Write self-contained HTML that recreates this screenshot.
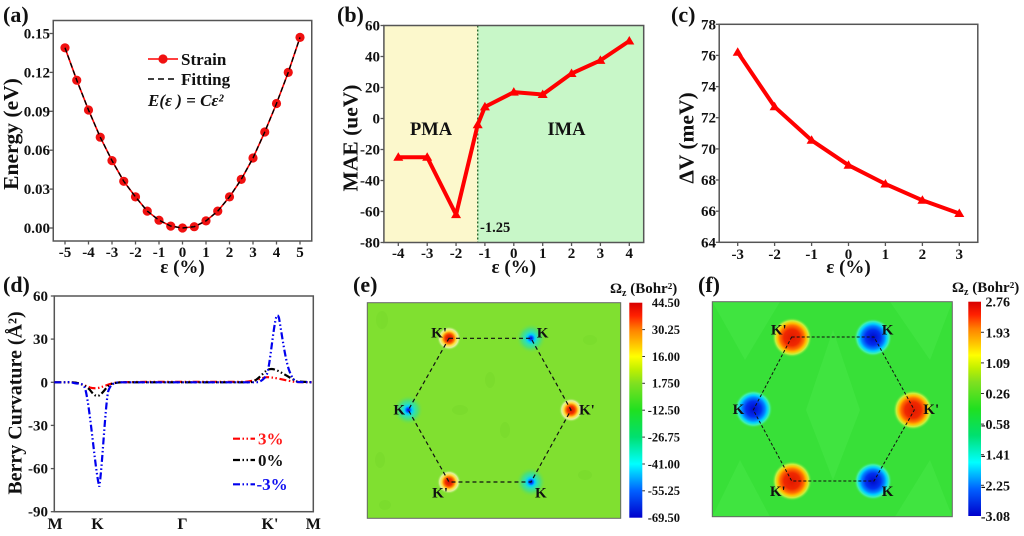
<!DOCTYPE html>
<html><head><meta charset="utf-8">
<style>
html,body{margin:0;padding:0;background:#fff;}
svg{display:block;}
text{font-family:"Liberation Serif","DejaVu Serif",serif;font-weight:bold;fill:#111;}
</style></head><body>
<svg width="1024" height="536" viewBox="0 0 1024 536" xmlns="http://www.w3.org/2000/svg">
<defs>
 <linearGradient id="cb" x1="0" y1="0" x2="0" y2="1">
  <stop offset="0" stop-color="#d80000"/>
  <stop offset="0.06" stop-color="#ff2000"/>
  <stop offset="0.125" stop-color="#ff8000"/>
  <stop offset="0.19" stop-color="#ffc000"/>
  <stop offset="0.25" stop-color="#ffff00"/>
  <stop offset="0.31" stop-color="#c0f000"/>
  <stop offset="0.375" stop-color="#80e020"/>
  <stop offset="0.5" stop-color="#20e020"/>
  <stop offset="0.625" stop-color="#00e070"/>
  <stop offset="0.75" stop-color="#00ffff"/>
  <stop offset="0.875" stop-color="#0060ff"/>
  <stop offset="1" stop-color="#0000cc"/>
 </linearGradient>
 <radialGradient id="eKp" cx="0.5" cy="0.5" r="0.5">
  <stop offset="0" stop-color="#d01000"/>
  <stop offset="0.3" stop-color="#f03000"/>
  <stop offset="0.45" stop-color="#ff8000"/>
  <stop offset="0.6" stop-color="#ffe040"/>
  <stop offset="0.78" stop-color="#e0f0a0"/>
  <stop offset="1" stop-color="#80e030" stop-opacity="0"/>
 </radialGradient>
 <radialGradient id="eK" cx="0.5" cy="0.5" r="0.5">
  <stop offset="0" stop-color="#0000c0"/>
  <stop offset="0.12" stop-color="#0050ff"/>
  <stop offset="0.25" stop-color="#00d0ff"/>
  <stop offset="0.42" stop-color="#30e0b0"/>
  <stop offset="0.65" stop-color="#50e070"/>
  <stop offset="1" stop-color="#80e030" stop-opacity="0"/>
 </radialGradient>
 <radialGradient id="fKp" cx="0.5" cy="0.5" r="0.5">
  <stop offset="0" stop-color="#e01800"/>
  <stop offset="0.4" stop-color="#f02800"/>
  <stop offset="0.6" stop-color="#ff7000"/>
  <stop offset="0.72" stop-color="#ffc000"/>
  <stop offset="0.84" stop-color="#c8f040"/>
  <stop offset="1" stop-color="#38e038" stop-opacity="0"/>
 </radialGradient>
 <radialGradient id="fK" cx="0.5" cy="0.5" r="0.5">
  <stop offset="0" stop-color="#0008c8"/>
  <stop offset="0.4" stop-color="#0030f0"/>
  <stop offset="0.6" stop-color="#0080ff"/>
  <stop offset="0.72" stop-color="#00d0ff"/>
  <stop offset="0.85" stop-color="#40f0b0"/>
  <stop offset="1" stop-color="#38e038" stop-opacity="0"/>
 </radialGradient>
</defs>
<rect width="1024" height="536" fill="#fff"/>

<!-- ================= (a) ================= -->
<text x="3" y="22" font-size="22">(a)</text>
<rect x="53.25" y="20.5" width="258.5" height="220.5" fill="none" stroke="#555" stroke-width="1.5"/>
<g stroke="#555" stroke-width="1.3">
 <line x1="49.5" y1="228" x2="53.25" y2="228"/>
 <line x1="49.5" y1="189.1" x2="53.25" y2="189.1"/>
 <line x1="49.5" y1="150.2" x2="53.25" y2="150.2"/>
 <line x1="49.5" y1="111.3" x2="53.25" y2="111.3"/>
 <line x1="49.5" y1="72.4" x2="53.25" y2="72.4"/>
 <line x1="49.5" y1="33.5" x2="53.25" y2="33.5"/>
 <line x1="65" y1="241" x2="65" y2="244.5"/>
 <line x1="88.5" y1="241" x2="88.5" y2="244.5"/>
 <line x1="112" y1="241" x2="112" y2="244.5"/>
 <line x1="135.5" y1="241" x2="135.5" y2="244.5"/>
 <line x1="159" y1="241" x2="159" y2="244.5"/>
 <line x1="182.5" y1="241" x2="182.5" y2="244.5"/>
 <line x1="206" y1="241" x2="206" y2="244.5"/>
 <line x1="229.5" y1="241" x2="229.5" y2="244.5"/>
 <line x1="253" y1="241" x2="253" y2="244.5"/>
 <line x1="276.5" y1="241" x2="276.5" y2="244.5"/>
 <line x1="300" y1="241" x2="300" y2="244.5"/>
</g>
<g font-size="15" text-anchor="end">
 <text x="50" y="233">0.00</text>
 <text x="50" y="194.1">0.03</text>
 <text x="50" y="155.2">0.06</text>
 <text x="50" y="116.3">0.09</text>
 <text x="50" y="77.4">0.12</text>
 <text x="50" y="38.5">0.15</text>
</g>
<g font-size="15" text-anchor="middle">
 <text x="65" y="257">-5</text>
 <text x="88.5" y="257">-4</text>
 <text x="112" y="257">-3</text>
 <text x="135.5" y="257">-2</text>
 <text x="159" y="257">-1</text>
 <text x="182.5" y="257">0</text>
 <text x="206" y="257">1</text>
 <text x="229.5" y="257">2</text>
 <text x="253" y="257">3</text>
 <text x="276.5" y="257">4</text>
 <text x="300" y="257">5</text>
</g>
<text x="182.5" y="273" font-size="19" text-anchor="middle">ε (%)</text>
<text transform="translate(18,134) rotate(-90)" font-size="21.5" text-anchor="middle">Energy (eV)</text>
<polyline fill="none" stroke="#ff0000" stroke-width="1.6" points="65,47.8 76.75,80.2 88.5,110 100.25,137.2 112,160.6 123.75,181.3 135.5,196.9 147.25,211.1 159,220.2 170.75,226.1 182.5,228 194.25,226.7 206,220.9 217.75,211.1 229.5,196.9 241.25,179.4 253,158 264.75,132 276.5,103.5 288.25,72.4 300,37.4"/>
<g fill="#f01010">
 <circle cx="65" cy="47.8" r="4.6"/><circle cx="76.75" cy="80.2" r="4.6"/><circle cx="88.5" cy="110" r="4.6"/>
 <circle cx="100.25" cy="137.2" r="4.6"/><circle cx="112" cy="160.6" r="4.6"/><circle cx="123.75" cy="181.3" r="4.6"/>
 <circle cx="135.5" cy="196.9" r="4.6"/><circle cx="147.25" cy="211.1" r="4.6"/><circle cx="159" cy="220.2" r="4.6"/>
 <circle cx="170.75" cy="226.1" r="4.6"/><circle cx="182.5" cy="228" r="4.6"/><circle cx="194.25" cy="226.7" r="4.6"/>
 <circle cx="206" cy="220.9" r="4.6"/><circle cx="217.75" cy="211.1" r="4.6"/><circle cx="229.5" cy="196.9" r="4.6"/>
 <circle cx="241.25" cy="179.4" r="4.6"/><circle cx="253" cy="158" r="4.6"/><circle cx="264.75" cy="132" r="4.6"/>
 <circle cx="276.5" cy="103.5" r="4.6"/><circle cx="288.25" cy="72.4" r="4.6"/><circle cx="300" cy="37.4" r="4.6"/>
</g>
<polyline fill="none" stroke="#000" stroke-width="1.4" stroke-dasharray="5 3" points="65,47.8 76.75,80.2 88.5,110 100.25,137.2 112,160.6 123.75,181.3 135.5,196.9 147.25,211.1 159,220.2 170.75,226.1 182.5,228 194.25,226.7 206,220.9 217.75,211.1 229.5,196.9 241.25,179.4 253,158 264.75,132 276.5,103.5 288.25,72.4 300,37.4"/>
<line x1="148" y1="59" x2="178" y2="59" stroke="#ff0000" stroke-width="1.6"/>
<circle cx="163" cy="59" r="4.6" fill="#f01010"/>
<text x="181" y="65" font-size="17">Strain</text>
<line x1="148" y1="79" x2="178" y2="79" stroke="#000" stroke-width="1.5" stroke-dasharray="6 4"/>
<text x="181" y="85" font-size="17">Fitting</text>
<text x="148" y="106" font-size="17" font-style="italic">E(ε ) = Cε²</text>

<!-- ================= (b) ================= -->
<text x="337" y="22" font-size="22">(b)</text>
<rect x="383.9" y="25.5" width="93.8" height="217" fill="#fcf8cc"/>
<rect x="477.7" y="25.5" width="166" height="217" fill="#c8f7c8"/>
<line x1="477.7" y1="25.5" x2="477.7" y2="242.5" stroke="#2d6a2d" stroke-width="1.4" stroke-dasharray="2 2"/>
<rect x="383.9" y="25.5" width="259.8" height="217" fill="none" stroke="#555" stroke-width="1.5"/>
<g stroke="#555" stroke-width="1.3">
 <line x1="380.5" y1="25.5" x2="383.9" y2="25.5"/>
 <line x1="380.5" y1="56.5" x2="383.9" y2="56.5"/>
 <line x1="380.5" y1="87.5" x2="383.9" y2="87.5"/>
 <line x1="380.5" y1="118.5" x2="383.9" y2="118.5"/>
 <line x1="380.5" y1="149.5" x2="383.9" y2="149.5"/>
 <line x1="380.5" y1="180.5" x2="383.9" y2="180.5"/>
 <line x1="380.5" y1="211.5" x2="383.9" y2="211.5"/>
 <line x1="380.5" y1="242.5" x2="383.9" y2="242.5"/>
 <line x1="398.3" y1="242.5" x2="398.3" y2="246"/>
 <line x1="427.2" y1="242.5" x2="427.2" y2="246"/>
 <line x1="456.05" y1="242.5" x2="456.05" y2="246"/>
 <line x1="484.9" y1="242.5" x2="484.9" y2="246"/>
 <line x1="513.8" y1="242.5" x2="513.8" y2="246"/>
 <line x1="542.7" y1="242.5" x2="542.7" y2="246"/>
 <line x1="571.55" y1="242.5" x2="571.55" y2="246"/>
 <line x1="600.4" y1="242.5" x2="600.4" y2="246"/>
 <line x1="629.3" y1="242.5" x2="629.3" y2="246"/>
</g>
<g font-size="15" text-anchor="end">
 <text x="380" y="30.5">60</text>
 <text x="380" y="61.5">40</text>
 <text x="380" y="92.5">20</text>
 <text x="380" y="123.5">0</text>
 <text x="380" y="154.5">-20</text>
 <text x="380" y="185.5">-40</text>
 <text x="380" y="216.5">-60</text>
 <text x="380" y="247.5">-80</text>
</g>
<g font-size="15" text-anchor="middle">
 <text x="398.3" y="258">-4</text>
 <text x="427.2" y="258">-3</text>
 <text x="456.05" y="258">-2</text>
 <text x="484.9" y="258">-1</text>
 <text x="513.8" y="258">0</text>
 <text x="542.7" y="258">1</text>
 <text x="571.55" y="258">2</text>
 <text x="600.4" y="258">3</text>
 <text x="629.3" y="258">4</text>
</g>
<text x="513.8" y="273" font-size="19" text-anchor="middle">ε (%)</text>
<text transform="translate(357.5,138) rotate(-90)" font-size="21.5" text-anchor="middle">MAE (ueV)</text>
<text x="431" y="135" font-size="18.5" text-anchor="middle">PMA</text>
<text x="566.5" y="135" font-size="18.5" text-anchor="middle">IMA</text>
<text x="480" y="232" font-size="14.5">-1.25</text>
<polyline fill="none" stroke="#ff0000" stroke-width="4" stroke-linejoin="round" points="398.3,157.25 427.2,157.25 456.05,214.6 477.7,124.7 484.9,106.9 513.8,92.15 542.7,94.5 571.55,73.55 600.4,60.4 629.3,41"/>
<g fill="#ff0000">
 <polygon points="393.3,160.75 403.3,160.75 398.3,152.25"/>
 <polygon points="422.2,160.75 432.2,160.75 427.2,152.25"/>
 <polygon points="451.05,218.1 461.05,218.1 456.05,209.6"/>
 <polygon points="472.7,128.2 482.7,128.2 477.7,119.7"/>
 <polygon points="479.9,110.4 489.9,110.4 484.9,101.9"/>
 <polygon points="508.8,95.65 518.8,95.65 513.8,87.15"/>
 <polygon points="537.7,98 547.7,98 542.7,89.5"/>
 <polygon points="566.55,77.05 576.55,77.05 571.55,68.55"/>
 <polygon points="595.4,63.9 605.4,63.9 600.4,55.4"/>
 <polygon points="624.3,44.5 634.3,44.5 629.3,36"/>
</g>

<!-- ================= (c) ================= -->
<text x="671" y="22" font-size="22">(c)</text>
<rect x="719.2" y="24.3" width="258.6" height="218" fill="none" stroke="#555" stroke-width="1.5"/>
<g stroke="#555" stroke-width="1.3">
 <line x1="715.8" y1="242.3" x2="719.2" y2="242.3"/>
 <line x1="715.8" y1="211.2" x2="719.2" y2="211.2"/>
 <line x1="715.8" y1="180" x2="719.2" y2="180"/>
 <line x1="715.8" y1="148.9" x2="719.2" y2="148.9"/>
 <line x1="715.8" y1="117.7" x2="719.2" y2="117.7"/>
 <line x1="715.8" y1="86.6" x2="719.2" y2="86.6"/>
 <line x1="715.8" y1="55.4" x2="719.2" y2="55.4"/>
 <line x1="715.8" y1="24.3" x2="719.2" y2="24.3"/>
 <line x1="737.7" y1="242.3" x2="737.7" y2="246"/>
 <line x1="774.6" y1="242.3" x2="774.6" y2="246"/>
 <line x1="811.6" y1="242.3" x2="811.6" y2="246"/>
 <line x1="848.5" y1="242.3" x2="848.5" y2="246"/>
 <line x1="885.4" y1="242.3" x2="885.4" y2="246"/>
 <line x1="922.4" y1="242.3" x2="922.4" y2="246"/>
 <line x1="959.3" y1="242.3" x2="959.3" y2="246"/>
</g>
<g font-size="15" text-anchor="end">
 <text x="716" y="247.3">64</text>
 <text x="716" y="216.2">66</text>
 <text x="716" y="185">68</text>
 <text x="716" y="153.9">70</text>
 <text x="716" y="122.7">72</text>
 <text x="716" y="91.6">74</text>
 <text x="716" y="60.4">76</text>
 <text x="716" y="29.3">78</text>
</g>
<g font-size="15" text-anchor="middle">
 <text x="737.7" y="259">-3</text>
 <text x="774.6" y="259">-2</text>
 <text x="811.6" y="259">-1</text>
 <text x="848.5" y="259">0</text>
 <text x="885.4" y="259">1</text>
 <text x="922.4" y="259">2</text>
 <text x="959.3" y="259">3</text>
</g>
<text x="848.5" y="273" font-size="19" text-anchor="middle">ε (%)</text>
<text transform="translate(693.5,138) rotate(-90)" font-size="21.5" text-anchor="middle">ΔV (meV)</text>
<polyline fill="none" stroke="#ff0000" stroke-width="4" stroke-linejoin="round" points="737.7,52.3 774.6,106.8 811.6,140.3 848.5,165.2 885.4,184 922.4,200.3 959.3,213.5"/>
<g fill="#ff0000">
 <polygon points="732.7,55.8 742.7,55.8 737.7,47.3"/>
 <polygon points="769.6,110.3 779.6,110.3 774.6,101.8"/>
 <polygon points="806.6,143.8 816.6,143.8 811.6,135.3"/>
 <polygon points="843.5,168.7 853.5,168.7 848.5,160.2"/>
 <polygon points="880.4,187.5 890.4,187.5 885.4,179"/>
 <polygon points="917.4,203.8 927.4,203.8 922.4,195.3"/>
 <polygon points="954.3,217 964.3,217 959.3,208.5"/>
</g>

<!-- ================= (d) ================= -->
<text x="3" y="292" font-size="22">(d)</text>
<rect x="54.3" y="296" width="259" height="215.7" fill="none" stroke="#555" stroke-width="1.5"/>
<g stroke="#555" stroke-width="1.3">
 <line x1="50.8" y1="296" x2="54.3" y2="296"/>
 <line x1="50.8" y1="339.1" x2="54.3" y2="339.1"/>
 <line x1="50.8" y1="382.3" x2="54.3" y2="382.3"/>
 <line x1="50.8" y1="425.4" x2="54.3" y2="425.4"/>
 <line x1="50.8" y1="468.6" x2="54.3" y2="468.6"/>
 <line x1="50.8" y1="511.7" x2="54.3" y2="511.7"/>
</g>
<g font-size="15" text-anchor="end">
 <text x="48" y="301">60</text>
 <text x="48" y="344.1">30</text>
 <text x="48" y="387.3">0</text>
 <text x="48" y="430.4">-30</text>
 <text x="48" y="473.6">-60</text>
 <text x="48" y="516.7">-90</text>
</g>
<g font-size="16" text-anchor="middle">
 <text x="55" y="529">M</text>
 <text x="97.5" y="529">K</text>
 <text x="182.5" y="529">Γ</text>
 <text x="270" y="529">K'</text>
 <text x="313.3" y="529">M</text>
</g>
<text transform="translate(21.5,403) rotate(-90)" font-size="20" text-anchor="middle">Berry Curvature (Å²)</text>
<g fill="none" stroke-width="2.2" stroke-dasharray="7 2.5 1.5 2.5 1.5 2.5">
 <path stroke="#ff0000" d="M54.3,382.3 L70,382.3 C78,382.5 84,385 90,387.5 C93,388.5 97,388.5 100,387.5 C105,386 110,383.5 118,382.3 L150,381.8 L245,381.8 C253,381.5 260,378.5 266,377.3 C272,376.5 285,380.5 296,382 L313.3,382.3"/>
 <path stroke="#000000" d="M54.3,382.3 L72,382.3 C80,382.5 86,386 90,390 C93,394 95,396 97.5,396 C100,396 104,391 107,387 C110,384 114,382.5 122,382.3 L250,382.3 C256,382 262,374 266,371 C269,368.5 272,368.5 276,370 C283,373 290,378 297,381.5 L313.3,382.3"/>
 <path stroke="#0000ee" d="M54.3,382.3 L66,382.3 C70,381.3 74,383.5 78,383.5 C81,383.5 83,384 85,388 C90,405 95,470 99.3,486.7 C102,470 105,410 108,392 C110,385 113,382.5 120,382.3 L255,382.3 C260,382.3 264,380 267,374 C270,365 273,330 276,318 C277,314.5 278,314.5 279,318 C282,335 285,358 289,370 C292,378 294,381 298,382 L313.3,382.3"/>
 <line x1="233" y1="438.7" x2="255" y2="438.7" stroke="#ff0000"/>
 <line x1="233" y1="460" x2="255" y2="460" stroke="#000"/>
 <line x1="233" y1="484.3" x2="255" y2="484.3" stroke="#0000ee"/>
</g>
<text x="258" y="444.5" font-size="17" style="fill:#ff1a1a">3%</text>
<text x="258" y="466" font-size="17">0%</text>
<text x="256.5" y="490" font-size="17" style="fill:#1010f0">-3%</text>

<!-- ================= (e) ================= -->
<text x="353" y="292" font-size="22">(e)</text>
<rect x="367.3" y="302.7" width="253.4" height="215.6" fill="#80e030"/>
<g fill="#78da2c" opacity="0.6">
 <ellipse cx="382" cy="320" rx="6" ry="9"/>
 <ellipse cx="490" cy="380" rx="5" ry="8"/>
 <ellipse cx="460" cy="410" rx="8" ry="5"/>
 <ellipse cx="590" cy="340" rx="7" ry="5"/>
 <ellipse cx="585" cy="475" rx="7" ry="5"/>
 <ellipse cx="380" cy="460" rx="5" ry="8"/>
 <ellipse cx="505" cy="430" rx="5" ry="8"/>
 <ellipse cx="385" cy="505" rx="6" ry="5"/>
</g>
<circle cx="449" cy="338.3" r="12" fill="url(#eKp)"/>
<circle cx="571" cy="410" r="12" fill="url(#eKp)"/>
<circle cx="449" cy="482" r="12" fill="url(#eKp)"/>
<circle cx="531" cy="338.3" r="15" fill="url(#eK)"/>
<circle cx="408.3" cy="410" r="15" fill="url(#eK)"/>
<circle cx="531" cy="482" r="15" fill="url(#eK)"/>
<polygon points="449,338.3 531,338.3 571,410 531,482 449,482 408.3,410" fill="none" stroke="#111" stroke-width="1.2" stroke-dasharray="4 3"/>
<rect x="367.3" y="302.7" width="253.4" height="215.6" fill="none" stroke="#666" stroke-width="1"/>
<g font-size="15">
 <text x="447" y="337.5" text-anchor="end">K'</text>
 <text x="536.7" y="337.5">K</text>
 <text x="405" y="414.5" text-anchor="end">K</text>
 <text x="579" y="414.5">K'</text>
 <text x="448" y="497.5" text-anchor="end">K'</text>
 <text x="535" y="497.5">K</text>
</g>
<rect x="629.3" y="302.7" width="13" height="215" fill="url(#cb)"/>
<g stroke="#333" stroke-width="1">
 <line x1="642.3" y1="329.6" x2="645" y2="329.6"/>
 <line x1="642.3" y1="356.5" x2="645" y2="356.5"/>
 <line x1="642.3" y1="383.3" x2="645" y2="383.3"/>
 <line x1="642.3" y1="410.2" x2="645" y2="410.2"/>
 <line x1="642.3" y1="437.1" x2="645" y2="437.1"/>
 <line x1="642.3" y1="464" x2="645" y2="464"/>
 <line x1="642.3" y1="490.8" x2="645" y2="490.8"/>
</g>
<g font-size="12.5" text-anchor="end">
 <text x="680" y="307">44.50</text>
 <text x="680" y="333.9">30.25</text>
 <text x="680" y="360.8">16.00</text>
 <text x="680" y="387.6">1.750</text>
 <text x="680" y="414.5">-12.50</text>
 <text x="680" y="441.4">-26.75</text>
 <text x="680" y="468.3">-41.00</text>
 <text x="680" y="495.1">-55.25</text>
 <text x="680" y="522">-69.50</text>
</g>
<text x="610" y="293" font-size="15">Ω<tspan font-size="10" dy="3">z</tspan><tspan dy="-3"> (Bohr²)</tspan></text>

<!-- ================= (f) ================= -->
<text x="698" y="292" font-size="22">(f)</text>
<rect x="712.3" y="301.7" width="240" height="215" fill="#38e038"/>
<g fill="#48e848" opacity="0.5">
 <polygon points="712.3,301.7 780,301.7 745,360"/>
 <polygon points="833,330 860,410 833,480 806,410"/>
 <polygon points="952.3,301.7 890,301.7 930,360"/>
 <polygon points="712.3,516.7 770,516.7 740,460"/>
 <polygon points="952.3,516.7 895,516.7 930,460"/>
</g>
<circle cx="792" cy="337.5" r="20" fill="url(#fKp)"/>
<circle cx="913" cy="410" r="20" fill="url(#fKp)"/>
<circle cx="792" cy="481" r="20" fill="url(#fKp)"/>
<circle cx="873" cy="337.5" r="19" fill="url(#fK)"/>
<circle cx="753.5" cy="409" r="19" fill="url(#fK)"/>
<circle cx="873" cy="481" r="19" fill="url(#fK)"/>
<polygon points="791.7,337 874,337 914.3,410 874,481 791.7,481 753.3,410" fill="none" stroke="#111" stroke-width="1" stroke-dasharray="3 2"/>
<rect x="712.3" y="301.7" width="240" height="215" fill="none" stroke="#666" stroke-width="1"/>
<g font-size="15">
 <text x="786.7" y="334.5" text-anchor="end">K'</text>
 <text x="881.7" y="334.5">K</text>
 <text x="744.3" y="414" text-anchor="end">K</text>
 <text x="923.3" y="414">K'</text>
 <text x="785.7" y="496" text-anchor="end">K'</text>
 <text x="881.7" y="496">K</text>
</g>
<rect x="968.3" y="301.7" width="12.7" height="214.3" fill="url(#cb)"/>
<g stroke="#333" stroke-width="1">
 <line x1="981" y1="332.3" x2="984" y2="332.3"/>
 <line x1="981" y1="362.9" x2="984" y2="362.9"/>
 <line x1="981" y1="393.5" x2="984" y2="393.5"/>
 <line x1="981" y1="424.1" x2="984" y2="424.1"/>
 <line x1="981" y1="454.7" x2="984" y2="454.7"/>
 <line x1="981" y1="485.3" x2="984" y2="485.3"/>
</g>
<g font-size="14" text-anchor="end">
 <text x="1010" y="306.7">2.76</text>
 <text x="1010" y="337.3">1.93</text>
 <text x="1010" y="367.9">1.09</text>
 <text x="1010" y="398.5">0.26</text>
 <text x="1010" y="429.1">-0.58</text>
 <text x="1010" y="459.7">-1.41</text>
 <text x="1010" y="490.3">-2.25</text>
 <text x="1010" y="520.9">-3.08</text>
</g>
<text x="952" y="292" font-size="15">Ω<tspan font-size="10" dy="3">z</tspan><tspan dy="-3"> (Bohr²)</tspan></text>
</svg>
</body></html>
